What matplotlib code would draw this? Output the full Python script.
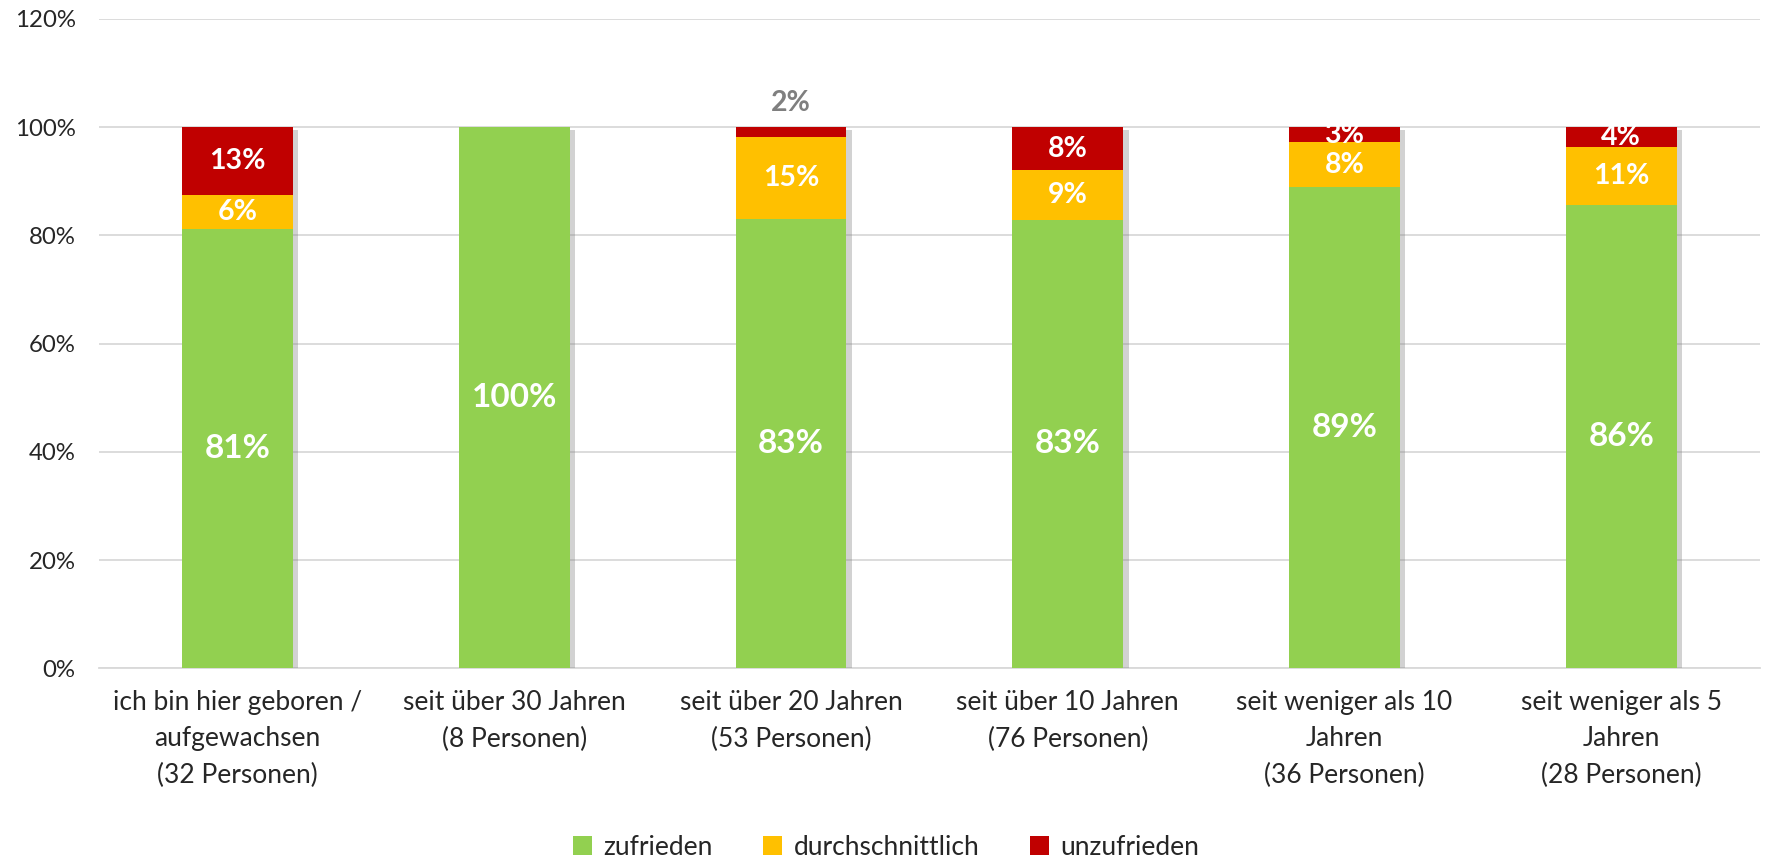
import matplotlib
matplotlib.use("Agg")
import matplotlib.pyplot as plt
import matplotlib.patheffects as pe
from matplotlib.ticker import PercentFormatter
import numpy as np

plt.rcParams["font.family"] = ["Lato", "DejaVu Sans"]

categories = [
    "ich bin hier geboren /\naufgewachsen\n(32 Personen)",
    "seit über 30 Jahren\n(8 Personen)",
    "seit über 20 Jahren\n(53 Personen)",
    "seit über 10 Jahren\n(76 Personen)",
    "seit weniger als 10\nJahren\n(36 Personen)",
    "seit weniger als 5\nJahren\n(28 Personen)",
]
zufrieden = [81.25, 100.0, 83.0, 82.9, 88.9, 85.7]
durchschnittlich = [6.25, 0.0, 15.1, 9.2, 8.3, 10.7]
unzufrieden = [12.5, 0.0, 1.9, 7.9, 2.8, 3.6]

series = [
    ("zufrieden", zufrieden, "#92D050", 24),
    ("durchschnittlich", durchschnittlich, "#FFC000", 20.5),
    ("unzufrieden", unzufrieden, "#C00000", 20.5),
]

fig = plt.figure(figsize=(17.72, 8.6), dpi=100)
ax = fig.add_axes([0.056, 0.223, 0.937, 0.755])

x = np.arange(len(categories))
width = 0.4

# soft drop shadow behind each full stack
totals = np.sum([zufrieden, durchschnittlich, unzufrieden], axis=0)
shadow_bars = ax.bar(x, totals, width, color="white", zorder=2)
for b in shadow_bars:
    b.set_path_effects([pe.SimplePatchShadow(offset=(4, -2), shadow_rgbFace="#7f7f7f", alpha=0.35)])

bottom = np.zeros(len(categories))
for name, vals, color, fs in series:
    vals = np.array(vals)
    ax.bar(x, vals, width, bottom=bottom, color=color, label=name, zorder=3)
    for i, v in enumerate(vals):
        if v <= 0:
            continue
        txt = f"{int(v + 0.5)}%"
        if v < 2.5 and name == "unzufrieden":
            ax.annotate(txt, (x[i], bottom[i] + v), xytext=(0, 8), textcoords="offset points",
                        ha="center", va="bottom", color="#7f7f7f", fontsize=fs,
                        fontweight="bold", zorder=5)
        else:
            ax.text(x[i], bottom[i] + v / 2, txt, ha="center", va="center", color="white",
                    fontsize=fs, fontweight="bold", zorder=5)
    bottom = bottom + vals

ax.set_ylim(0, 120)
ax.set_xlim(-0.5, len(categories) - 0.5)
ax.set_yticks(np.arange(0, 121, 20))
ax.yaxis.set_major_formatter(PercentFormatter(decimals=0))
ax.set_xticks(x)
ax.set_xticklabels(categories, fontsize=19, linespacing=1.55)
ax.tick_params(axis="y", labelsize=17.3, length=0, pad=17, colors="#262626")
ax.tick_params(axis="x", length=0, pad=16, colors="#262626")
ax.grid(axis="y", color="#d9d9d9", linewidth=1.3, zorder=0)
for s in ["top", "right", "left"]:
    ax.spines[s].set_visible(False)
ax.spines["bottom"].set_color("#d9d9d9")
ax.spines["bottom"].set_linewidth(1.3)
ax.spines["bottom"].set_zorder(1)

fig.legend(loc="center", bbox_to_anchor=(0.5, 0.015), ncol=3, frameon=False,
           fontsize=19, handlelength=0.72, handleheight=0.72, columnspacing=1.9,
           handletextpad=0.45, labelcolor="#262626")

fig.savefig("out.png", dpi=100)
